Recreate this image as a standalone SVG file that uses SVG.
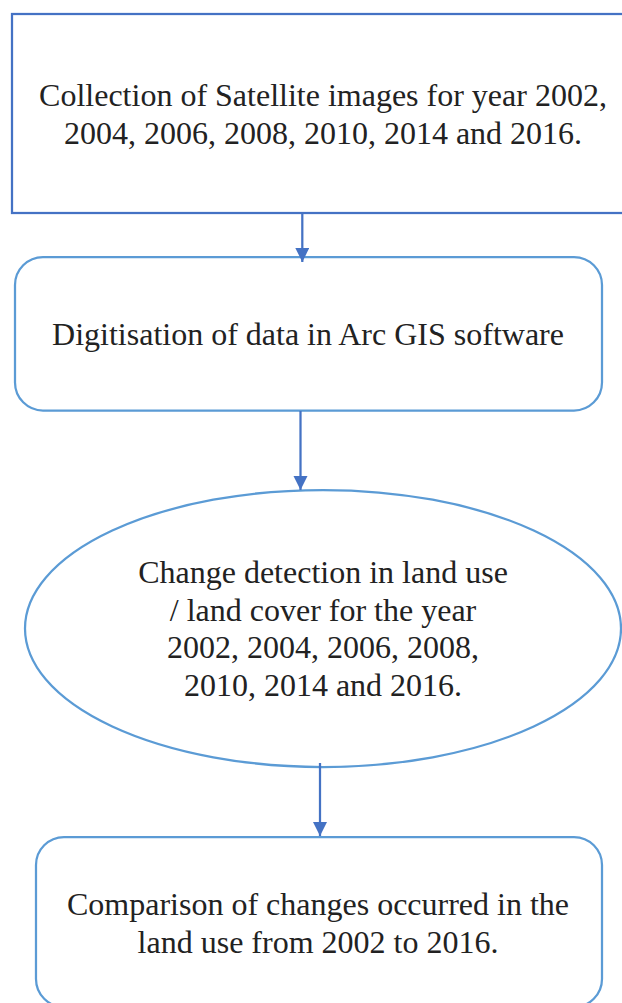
<svg xmlns="http://www.w3.org/2000/svg" width="622" height="1003" viewBox="0 0 622 1003">
<style>
.t{font-family:"Liberation Serif","Times New Roman",serif;font-size:32px;fill:#222;text-anchor:middle}
.dark{fill:#fff;stroke:#4472C4;stroke-width:2.25}
.light{fill:#fff;stroke:#5B9BD5;stroke-width:2.25}
.conn{stroke:#4472C4;stroke-width:2.25;fill:none}
</style>
<defs>
<marker id="ah" markerUnits="userSpaceOnUse" markerWidth="16" markerHeight="16" refX="14" refY="7" orient="auto">
<path d="M0,0 L14,7 L0,14 Z" fill="#4472C4"/>
</marker>
</defs>
<rect width="622" height="1003" fill="#fff"/>
<g id="node1">
<rect class="dark" x="12" y="14" width="640" height="199"/>
<text class="t" x="323" y="106">Collection of Satellite images for year 2002,</text>
<text class="t" x="323" y="143.5">2004, 2006, 2008, 2010, 2014 and 2016.</text>
</g>
<g id="node2">
<rect class="light" x="15" y="257" width="587" height="153.5" rx="28" ry="28"/>
<text class="t" x="308" y="345">Digitisation of data in Arc GIS software</text>
</g>
<g id="node3">
<ellipse class="light" cx="323" cy="628.5" rx="298" ry="138.5"/>
<text class="t" x="323" y="583">Change detection in land use</text>
<text class="t" x="323" y="620.5">/ land cover for the year</text>
<text class="t" x="323" y="658">2002, 2004, 2006, 2008,</text>
<text class="t" x="323" y="695.5">2010, 2014 and 2016.</text>
</g>
<g id="node4">
<rect class="light" x="36" y="837" width="566" height="170" rx="28" ry="28"/>
<text class="t" x="318" y="915">Comparison of changes occurred in the</text>
<text class="t" x="318" y="952.5">land use from 2002 to 2016.</text>
</g>
<g id="connectors">
<line class="conn" x1="302.3" y1="214" x2="302.3" y2="262" marker-end="url(#ah)"/>
<line class="conn" x1="300.5" y1="411" x2="300.5" y2="490" marker-end="url(#ah)"/>
<line class="conn" x1="320" y1="763" x2="320" y2="836" marker-end="url(#ah)"/>
</g>
</svg>
